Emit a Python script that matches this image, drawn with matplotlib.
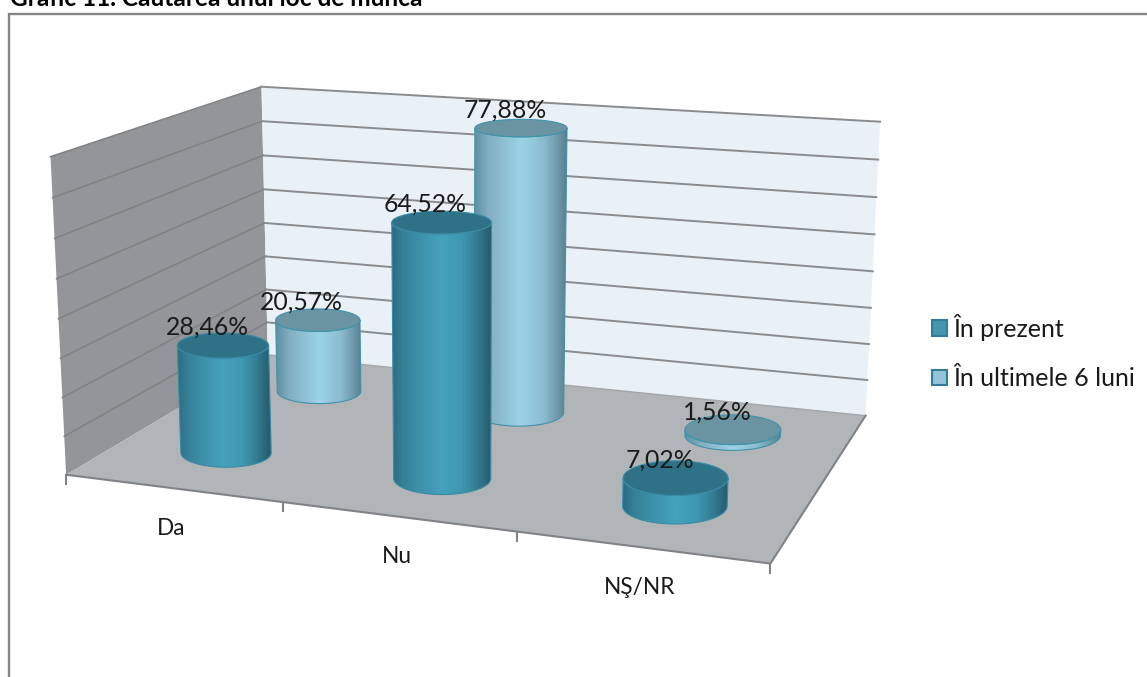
import numpy as np
import matplotlib
matplotlib.use("Agg")
import matplotlib.pyplot as plt
from matplotlib.colors import LinearSegmentedColormap
from matplotlib.patches import Polygon, Patch, Rectangle

plt.rcParams['font.family'] = ['Lato', 'DejaVu Sans']

title = "Grafic 11. Căutarea unui loc de muncă"
categories = ["Da", "Nu", "NŞ/NR"]
series_names = ["În prezent", "În ultimele 6 luni"]
in_prezent = [28.46, 64.52, 7.02]
ultimele_6 = [20.57, 77.88, 1.56]
axis_ticks = [0, 10, 20, 30, 40, 50, 60, 70, 80]

W, H = 1147, 677
fig = plt.figure(figsize=(W / 100, H / 100), dpi=100)
ax = fig.add_axes([0, 0, 1, 1])

# projective camera fitted to the corners of the 3D box (layout, not data)
world = [(0, 0, 0), (3, 0, 0), (3, 1, 0), (0, 1, 0), (0, 0, 80), (0, 1, 80), (3, 1, 80)]
pixel = [(67, 475), (770, 564), (866, 415), (267, 355), (50, 156), (262, 87), (880, 122)]
A, b = [], []
for (X, Y, Z), (u, v) in zip(world, pixel):
    A.append([X, Y, Z, 1, 0, 0, 0, 0, -u * X, -u * Y, -u * Z])
    A.append([0, 0, 0, 0, X, Y, Z, 1, -v * X, -v * Y, -v * Z])
    b += [u, v]
sol = np.linalg.lstsq(np.array(A, float), np.array(b, float), rcond=None)[0]
M = np.append(sol, 1).reshape(3, 4)


def proj(x, y, z):
    p = M @ np.array([x, y, z, 1.0])
    return np.array([p[0] / p[2], p[1] / p[2]])


def poly(pts, **kw):
    ax.add_patch(Polygon([proj(*p) for p in pts], closed=True, **kw))


# frame
ax.add_patch(Rectangle((9, 14), W + 20, H + 20, fc="white", ec="#858585", lw=1.7, zorder=0))

# walls and floor
poly([(0, 0, 0), (0, 1, 0), (0, 1, 80), (0, 0, 80)], fc="#939598", ec="none", zorder=1)
poly([(0, 1, 0), (3, 1, 0), (3, 1, 80), (0, 1, 80)], fc="#e9f0f6", ec="none", zorder=1)
poly([(0, 0, 0), (3, 0, 0), (3, 1, 0), (0, 1, 0)], fc="#b2b5b8", ec="none", zorder=2)

for t in axis_ticks:
    side = np.array([proj(0, 0, t), proj(0, 1, t)])
    back = np.array([proj(0, 1, t), proj(3, 1, t)])
    if t == 0:
        ax.plot(back[:, 0], back[:, 1], color="#a3a6a9", lw=1.0, zorder=2.5)
    else:
        ax.plot(side[:, 0], side[:, 1], color="#808183", lw=1.1, zorder=1.5)
        ax.plot(back[:, 0], back[:, 1], color="#8a8b8d", lw=1.4, zorder=1.5)

# floor edges and ticks
edge = np.array([proj(0, 0, 0), proj(3, 0, 0), proj(3, 1, 0)])
ax.plot(edge[:, 0], edge[:, 1], color="#808285", lw=1.5, zorder=3)
for i in range(len(categories) + 1):
    p = proj(i, 0, 0)
    ax.plot([p[0], p[0]], [p[1], p[1] + 9], color="#808285", lw=1.5, zorder=3)
for i, c in enumerate(categories):
    p = proj(i + 0.5, 0, 0)
    ax.annotate(c, p, xytext=(-1, -29), textcoords="offset points", ha="center", va="center",
                fontsize=16.3, color="#1a1a1a", zorder=10)

styles = [
    dict(depth=0.25,
         cmap=LinearSegmentedColormap.from_list("a", [(0, "#2a6c82"), (.1, "#367f97"), (.3, "#3f93ad"), (.5, "#45a2bd"),
                                                       (.7, "#3f97b1"), (.85, "#347d94"), (1, "#25596b")]),
         top="#2f7288", edge="#3a8ca5"),
    dict(depth=0.75,
         cmap=LinearSegmentedColormap.from_list("b", [(0, "#5d8fa3"), (.15, "#82aec0"), (.5, "#9bd3e6"), (.75, "#8cbdd0"),
                                                       (.9, "#6f9aab"), (1, "#587f8f")]),
         top="#6b94a3", edge="#3f93ab"),
]
RADIUS = 0.215
theta = np.linspace(0, 2 * np.pi, 120)


def squash(py):
    # ellipses open up lower in the picture, as the camera looks down on them
    return 0.19 + 0.0004 * (py - 128)


def half_width(x, y, z):
    return np.linalg.norm(proj(x + 0.5, y, z) - proj(x - 0.5, y, z)) * RADIUS


def cylinder(x, depth, value, st, zorder):
    c0, c1 = proj(x, depth, 0), proj(x, depth, value)
    a0, a1 = half_width(x, depth, 0), half_width(x, depth, value)
    b0, b1 = a0 * squash(c0[1]), a1 * squash(c1[1])
    lower = theta[theta <= np.pi]
    bottom = np.c_[c0[0] + a0 * np.cos(lower), c0[1] + b0 * np.sin(lower)]
    upper = np.c_[c1[0] + a1 * np.cos(lower[::-1]), c1[1] + b1 * np.sin(lower[::-1])]
    body = Polygon(np.r_[bottom, upper], closed=True, fc="none", ec=st["edge"], lw=0.8, zorder=zorder + 0.2)
    ax.add_patch(body)
    xmin = min(c0[0] - a0, c1[0] - a1)
    xmax = max(c0[0] + a0, c1[0] + a1)
    im = ax.imshow(np.linspace(0, 1, 128)[None, :], cmap=st["cmap"], aspect="auto",
                   extent=(xmin, xmax, c0[1] + a0, c1[1] - a1), zorder=zorder + 0.1)
    im.set_clip_path(body)
    ring = np.c_[c1[0] + a1 * np.cos(theta), c1[1] + b1 * np.sin(theta)]
    ax.add_patch(Polygon(ring, closed=True, fc=st["top"], ec=st["edge"], lw=0.8, zorder=zorder + 0.3))


tops = []
order = 4
for values, st in [(ultimele_6, styles[1]), (in_prezent, styles[0])]:
    for i, v in enumerate(values):
        cylinder(i + 0.5, st["depth"], v, st, order)
        tops.append((i + 0.5, st["depth"], v))
        order += 1

for x, d, v in tops:
    ax.annotate(f"{v:.2f}%".replace(".", ","), proj(x, d, v), xytext=(-11.5, 13),
                textcoords="offset points", ha="center", va="center",
                fontsize=17.8, color="#1a1a1a", zorder=20)

# title (its upper part runs off the top of the page, as in the reference)
ax.text(10, 6, title, fontsize=17.6, fontweight="bold", color="black", ha="left", va="baseline", zorder=20)

# legend
handles = [Patch(fc="#4497b0", ec="#2f7d96", lw=1.5, label=series_names[0]),
           Patch(fc="#93c3d6", ec="#2f7d96", lw=1.5, label=series_names[1])]
ax.legend(handles=handles, loc="upper left", bbox_to_anchor=(932, 314), bbox_transform=ax.transData,
          frameon=False, fontsize=18, handlelength=0.6, handleheight=0.6, handletextpad=0.25,
          labelspacing=1.05, borderpad=0, borderaxespad=0, labelcolor="#1a1a1a")

ax.set_xlim(0, W)
ax.set_ylim(H, 0)
ax.axis("off")
fig.savefig("out.png", dpi=100, facecolor="white")
